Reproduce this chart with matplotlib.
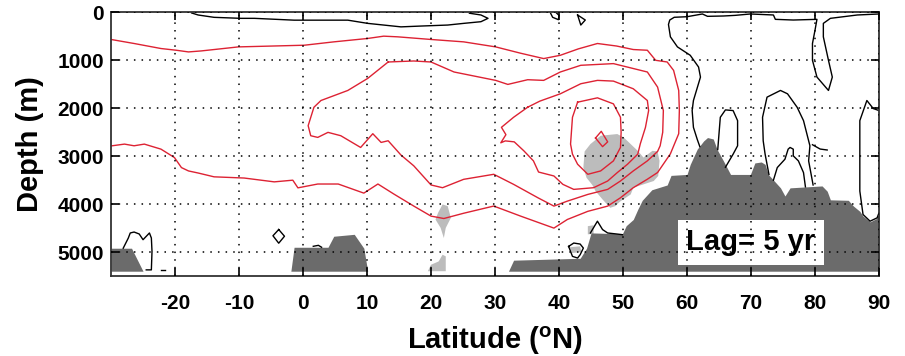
import matplotlib
matplotlib.use("Agg")
import matplotlib.pyplot as plt
import numpy as np

plt.rcParams["font.family"] = ["Liberation Sans", "DejaVu Sans"]
plt.rcParams["mathtext.fontset"] = "custom"
plt.rcParams["mathtext.rm"] = "Liberation Sans:bold"
plt.rcParams["mathtext.bf"] = "Liberation Sans:bold"
plt.rcParams["axes.unicode_minus"] = False

# deepest model level: floor of the topography fill
BOTTOM = 5400

x_ticks = list(range(-20, 91, 10))
y_ticks = list(range(0, 5001, 1000))
lag_label = "Lag= 5 yr"

# ---- red (positive) contours, (latitude, depth) ----
red_outer = [
    (-30, 563), (-26.4, 647), (-22.2, 752), (-19.8, 788), (-17.9, 823), (-15.9, 802),
    (-10.1, 718), (0.2, 683), (4.8, 613), (10.1, 542), (12.6, 494), (14.8, 508),
    (20.0, 563), (25.1, 613), (30.1, 718), (34.0, 850), (37.6, 962), (40.2, 893),
    (43.0, 760), (46.0, 647), (49.0, 700), (51.6, 773), (53.8, 788), (55.1, 998),
    (56.9, 1033), (57.9, 1208), (58.7, 1627), (58.8, 2047), (58.7, 2530), (57.4, 2950),
    (55.4, 3340), (53.8, 3480), (51.6, 3657), (49.6, 3867), (47.6, 4041), (44.5, 4150),
    (41.3, 4320), (39.2, 4500), (34.0, 4250), (29.8, 4040), (25.1, 4190), (22.0, 4300),
    (20.0, 4250), (17.3, 4040), (14.2, 3790), (11.7, 3580), (9.5, 3770), (5.5, 3580),
    (2.3, 3580), (-0.8, 3660), (-1.6, 3500), (-4.5, 3535), (-9.2, 3455), (-13.9, 3430),
    (-16.4, 3350), (-17.9, 3307), (-19.0, 3237), (-20.1, 3027), (-22.2, 2852),
    (-24.8, 2747), (-26.4, 2782), (-27.9, 2747), (-30, 2785),
]
red_loop3 = [
    (13.3, 1033), (17.3, 1012), (20.0, 1033), (23.6, 1242), (30.1, 1417), (32.0, 1501),
    (35.1, 1403), (37.6, 1417), (40.2, 1242), (43.4, 1102), (48.5, 1067), (53.8, 1242),
    (55.4, 1557), (56.3, 2047), (56.2, 2500), (55.8, 2782), (55.4, 2900), (53.8, 3097),
    (51.6, 3307), (49.6, 3517), (47.6, 3692), (44.5, 3797), (41.3, 3937), (39.2, 4041),
    (36.7, 3867), (32.9, 3587), (29.8, 3377), (25.1, 3482), (21.8, 3657), (20.0, 3600),
    (17.3, 3200), (15.3, 2975), (13.3, 2677), (12.2, 2712), (10.9, 2530), (9.0, 2817),
    (5.9, 2572), (3.9, 2502), (2.3, 2607), (1.2, 2572), (0.8, 2362), (1.7, 1978),
    (2.8, 1837), (7.0, 1627), (10.1, 1376), (13.3, 1033),
]
red_loop2 = [
    (35.1, 1977), (37.0, 1850), (40.2, 1697), (43.4, 1487), (46.0, 1417), (48.5, 1432),
    (51.6, 1592), (53.8, 1837), (54.0, 2047), (53.5, 2400), (52.7, 2740), (52.3, 2957),
    (50.7, 3167), (49.1, 3342), (47.6, 3517), (45.4, 3657), (42.3, 3692), (40.6, 3587),
    (39.2, 3412), (36.8, 3330), (36.0, 3097), (34.5, 2887), (33.0, 2700), (31.6, 2680),
    (30.9, 2720), (31.7, 2550), (31.0, 2397), (32.9, 2187), (35.1, 1977),
]
red_loop1 = [
    (42.9, 1872), (46.0, 1781), (48.5, 1907), (49.6, 2187), (49.7, 2500), (49.6, 2817),
    (48.5, 3097), (46.5, 3307), (44.5, 3377), (42.9, 3167), (42.1, 2957), (41.8, 2747),
    (42.1, 2187), (42.9, 1872),
]
red_core = [(45.7, 2620), (46.6, 2480), (47.6, 2700), (46.8, 2800), (45.7, 2620)]

# ---- black (negative) contours ----
black_surface = [
    (-17.4, 10), (-16.4, 52), (-13.9, 101), (-9.7, 122), (-7.6, 122), (-1.4, 160),
    (7.0, 160), (10.1, 227), (15.3, 300), (18.4, 283), (22.6, 262), (25.1, 227),
    (27.8, 192), (28.9, 122), (27.8, 52), (26.0, 15),
]
black_hook = [(38.7, 20), (39.0, 100), (39.9, 150), (40.0, 60), (39.6, 10)]
black_tri = [(42.9, 52), (44.1, 157), (43.4, 262), (42.9, 52)]
black_arctic = [
    (62.0, 2800), (61.6, 2650), (61.0, 2397), (60.8, 2047), (61.0, 1837), (62.1, 1348),
    (61.8, 1138), (60.5, 893), (58.5, 718), (57.4, 508), (57.1, 250), (57.3, 157),
    (58.0, 100), (60.0, 88), (62.4, 31), (63.2, 80), (65.7, 73), (67.5, 60), (69.9, 31),
    (73.5, 52), (73.8, 143), (76.6, 157), (80.3, 143), (80.0, 367), (79.6, 647),
    (79.6, 998), (80.3, 1348), (82.1, 1627), (82.7, 1348), (82.1, 998), (81.3, 508),
    (81.3, 227), (82.4, 122), (86.6, 52), (90, 31),
]
black_loop64 = [
    (64.8, 2860), (65.2, 2187), (66.0, 2033), (67.2, 2047), (67.9, 2257), (67.9, 2782),
    (67.2, 2957), (66.0, 3230),
]
black_loop72 = [
    (72.8, 3380), (72.2, 2957), (71.9, 2677), (71.8, 2187), (72.5, 1767), (74.6, 1627),
    (75.7, 1697), (77.2, 1977), (78.2, 2257), (79.2, 2782), (79.0, 3097), (79.7, 3600),
]
black_branch = [(79.6, 2760), (80.8, 2850), (81.9, 2870)]
black_knob = [
    (73.5, 3500), (74.1, 3237), (75.3, 3062), (75.8, 2852), (76.1, 2817), (76.6, 2852),
    (76.6, 2992), (77.4, 3097), (78.2, 3342), (78.5, 3640),
]
black_east = [
    (90, 2047), (89.1, 2005), (88.1, 1837), (87.0, 2257), (87.0, 3097), (87.0, 3727),
    (87.5, 4216), (88.6, 4356), (89.7, 4286), (90, 4180),
]
black_southwest = [
    (-28.1, 4920), (-27.3, 4707), (-27.0, 4602), (-26.4, 4582), (-25.6, 4623),
    (-25.0, 4742), (-24.5, 4672), (-24.0, 4602), (-23.7, 4707), (-23.6, 4987),
    (-23.7, 5372), (-24.5, 5372),
]
black_dash = [(-22.2, 5370), (-21.6, 5370)]
black_diamond = [(-3.8, 4530), (-2.9, 4670), (-3.8, 4815), (-4.7, 4660), (-3.8, 4530)]
black_nub = [(1.6, 4880), (2.4, 4860), (2.9, 4900)]
black_pocket = [
    (41.5, 4882), (42.3, 4812), (43.3, 4833), (43.8, 4917), (43.3, 5055), (42.9, 5125),
    (42.1, 5090), (41.8, 4987), (41.5, 4882),
]
black_ridge = [(44.9, 4602), (46.0, 4356), (46.8, 4531), (47.6, 4602), (49.9, 4637)]

# ---- light grey: significant regions ----
sig_core = [
    (44.9, 2747), (44.0, 2900), (43.8, 3237), (44.3, 3450), (45.2, 3600), (45.7, 3727),
    (46.8, 3902), (48.0, 4077), (48.8, 4041), (49.5, 3950), (51.2, 3797), (51.6, 3657),
    (53.2, 3587), (54.8, 3517), (55.5, 3412), (55.7, 3097), (55.4, 2900), (54.6, 2887),
    (53.2, 3027), (52.3, 2887), (50.1, 2607), (49.1, 2537), (46.5, 2572),
]
sig_ridge = [(44.5, 4460), (45.4, 4440), (45.4, 4620), (44.5, 4630)]
sig_pocket = [(41.7, 4900), (43.3, 4880), (43.5, 5000), (42.0, 5020)]
sig_lat22 = [
    (21.1, 4181), (21.8, 4006), (22.6, 4041), (23.1, 4286), (22.3, 4496), (22.0, 4707),
    (21.5, 4496), (20.7, 4321),
]
sig_lat22_floor = [(19.5, 5400), (20.0, 5265), (21.2, 5195), (21.8, 5055), (22.3, 5090), (22.3, 5400)]

# ---- dark grey: topography (top edge) ----
topo_south = [(-30, 4920), (-26.8, 4920), (-25.0, 5400)]
topo_equator = [(-1.9, 5400), (-1.4, 4900), (3.9, 4900), (4.8, 4670), (8.0, 4630), (9.5, 4920), (10.1, 5400)]
topo_north = [
    (32.1, 5400), (32.9, 5170), (43.3, 5130), (44.3, 4920), (45.0, 4600), (49.9, 4620),
    (50.5, 4450), (51.6, 4320), (52.3, 4110), (53.0, 3920), (54.5, 3700), (56.9, 3600),
    (57.5, 3400), (60.0, 3380), (60.5, 3170), (61.6, 2850), (62.6, 2680), (63.2, 2610),
    (64.1, 2640), (64.7, 2860), (65.7, 3100), (66.8, 3380), (69.9, 3380), (70.6, 3140),
    (71.6, 3120), (72.2, 3170), (72.7, 3380), (74.6, 3660), (75.3, 3830), (76.1, 3660),
    (81.1, 3620), (81.9, 3730), (82.4, 3910), (85.2, 3920), (86.0, 4040), (87.0, 4150),
    (87.5, 4250), (88.6, 4370), (89.6, 4300), (90, 4150),
]

RED = "#dd2233"
DARK = "#6b6b6b"
LIGHT = "#bcbcbc"


def xy(points):
    arr = np.asarray(points, dtype=float)
    return arr[:, 0], arr[:, 1]


def main() -> None:
    figure = plt.figure(figsize=(9.05, 3.56), dpi=100)
    axis = figure.add_axes([0.1227, 0.2247, 0.8486, 0.7402])

    for region in (sig_core, sig_ridge, sig_pocket, sig_lat22, sig_lat22_floor):
        lat, depth = xy(region)
        axis.fill(lat, depth, color=LIGHT, linewidth=0, zorder=1)

    for block in (topo_south, topo_equator, topo_north):
        lat, depth = xy(block)
        axis.fill_between(lat, depth, BOTTOM, color=DARK, linewidth=0, zorder=1.2)

    for line in (red_outer, red_loop3, red_loop2, red_loop1, red_core):
        lat, depth = xy(line)
        axis.plot(lat, depth, color=RED, linewidth=1.0, zorder=2)

    black_lines = (
        black_surface, black_hook, black_tri, black_arctic, black_loop64, black_loop72,
        black_branch, black_knob, black_east, black_southwest, black_dash, black_diamond,
        black_nub, black_pocket, black_ridge,
    )
    for line in black_lines:
        lat, depth = xy(line)
        axis.plot(lat, depth, color="black", linewidth=1.0, zorder=2)

    # grid dots run over the label box in the original, so keep it under the grid
    axis.text(70, 4800, lag_label, fontsize=21, fontweight="bold", ha="center", va="center",
              zorder=2.4, bbox=dict(facecolor="white", edgecolor="none", pad=6))

    axis.set_xlim(-30, 90)
    axis.set_ylim(5500, 0)
    axis.set_xticks(x_ticks)
    axis.set_yticks(y_ticks)
    axis.set_axisbelow(False)
    axis.grid(True, color="black", linestyle=(0, (1, 4)), linewidth=1.1)
    axis.tick_params(direction="in", length=6, width=1.2, top=True, right=True,
                     labelsize=15, pad=5, colors="black")
    axis.tick_params(axis="x", pad=13)
    for label in axis.get_xticklabels() + axis.get_yticklabels():
        label.set_fontweight("bold")
    for spine in axis.spines.values():
        spine.set_linewidth(1.3)
        spine.set_color("#333333")

    axis.set_xlabel(r"Latitude ($^{\rm o}$N)", fontsize=21, fontweight="bold", labelpad=8)
    axis.set_ylabel("Depth (m)", fontsize=21, fontweight="bold", labelpad=10)

    figure.savefig("out.png", dpi=100)
    plt.close(figure)


if __name__ == "__main__":
    main()
